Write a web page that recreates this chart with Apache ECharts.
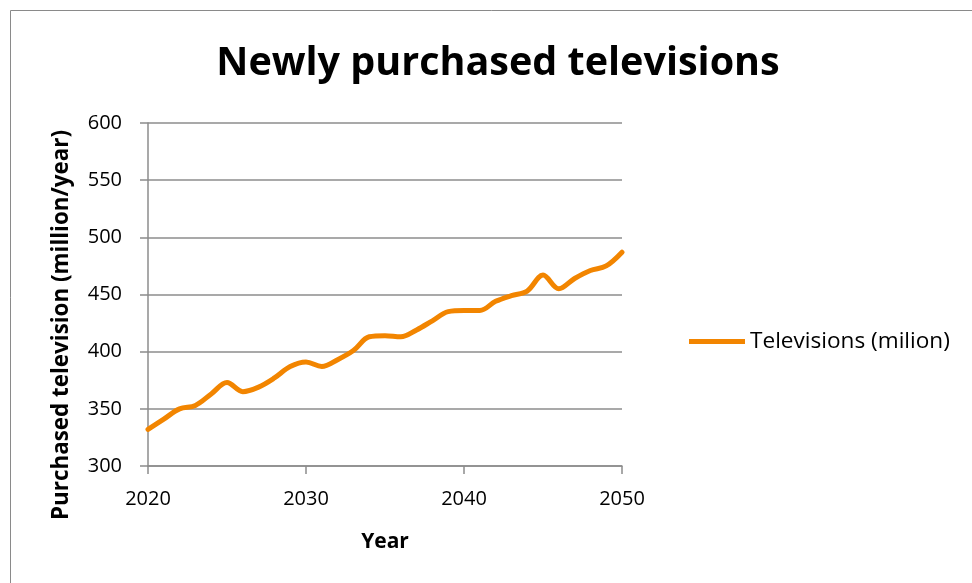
<!DOCTYPE html>
<html>
<head>
<meta charset="utf-8">
<script src="https://cdn.jsdelivr.net/npm/echarts@6/dist/echarts.min.js"></script>
<style>
  html, body { margin: 0; padding: 0; background: #fff; }
  #chart { width: 972px; height: 583px; }
</style>
</head>
<body>
<div id="chart"></div>
<script>
// Yearly purchases of new televisions, 2020-2050 (million per year)
const years = [2020, 2021, 2022, 2023, 2024, 2025, 2026, 2027, 2028, 2029, 2030,
               2031, 2032, 2033, 2034, 2035, 2036, 2037, 2038, 2039, 2040,
               2041, 2042, 2043, 2044, 2045, 2046, 2047, 2048, 2049, 2050];
const televisions = [332, 341, 350, 353, 363, 373, 365, 369, 377, 387, 391,
                     387, 393, 401, 413, 414, 413, 419, 427, 435, 436,
                     436, 444, 449, 453, 467, 455, 464, 471, 475, 487];
const xTicks = [2020, 2030, 2040, 2050];
const yTicks = [300, 350, 400, 450, 500, 550, 600];

const seriesName = 'Televisions (milion)';
const font = '"Open Sans", Lato, sans-serif';
const gridGray = '#8c8c8c';
const orange = '#F28500';

const chart = echarts.init(document.getElementById('chart'), null, { renderer: 'canvas' });

chart.setOption({
  backgroundColor: '#fff',
  animation: false,
  title: {
    text: 'Newly purchased televisions',
    left: 493, top: 39, textAlign: 'center',
    textStyle: { fontFamily: font, fontWeight: 'bold', fontSize: 39.5, color: '#000' }
  },
  legend: {
    data: [seriesName],
    left: 689, top: 330, padding: 0,
    itemWidth: 56, itemHeight: 5, itemGap: 4,
    icon: 'rect',
    textStyle: { fontFamily: font, fontSize: 22.6, color: '#000' }
  },
  grid: { left: 148, right: 350, top: 123, bottom: 117, containLabel: false },
  xAxis: {
    type: 'value',
    min: xTicks[0], max: xTicks[xTicks.length - 1], interval: 10,
    name: 'Year', nameLocation: 'middle', nameGap: 66,
    nameTextStyle: { fontFamily: font, fontWeight: 'bold', fontSize: 21, color: '#000' },
    axisLine: { lineStyle: { color: gridGray, width: 1.5 } },
    axisTick: { show: true, length: 8, lineStyle: { color: gridGray, width: 1.5 } },
    axisLabel: { fontFamily: font, fontSize: 20, color: '#000', margin: 23,
                 formatter: v => String(v) },
    splitLine: { show: false }
  },
  yAxis: {
    type: 'value',
    min: yTicks[0], max: yTicks[yTicks.length - 1], interval: 50,
    axisLine: { show: true, lineStyle: { color: gridGray, width: 1.5 } },
    axisTick: { show: true, length: 8, lineStyle: { color: gridGray, width: 1.5 } },
    axisLabel: { fontFamily: font, fontSize: 20, color: '#000', margin: 26 },
    splitLine: { show: true, lineStyle: { color: gridGray, width: 1.5 } }
  },
  graphic: [
    {
      type: 'rect', silent: true, z: -1,
      shape: { x: 10.5, y: 10.5, width: 975, height: 590 },
      style: { fill: 'none', stroke: '#8a8a8a', lineWidth: 1 }
    },
    {
      type: 'text', silent: true,
      x: 62, y: 325, rotation: Math.PI / 2,
      style: {
        text: 'Purchased television (million/year)',
        fontFamily: font, fontWeight: 'bold', fontSize: 22.4, fill: '#000',
        textAlign: 'center', textVerticalAlign: 'middle'
      }
    }
  ],
  series: [{
    name: seriesName,
    type: 'line',
    data: years.map((y, i) => [y, televisions[i]]),
    smooth: 0.35,
    showSymbol: false,
    symbol: 'none',
    lineStyle: { color: orange, width: 5, cap: 'round', join: 'round' },
    itemStyle: { color: orange }
  }]
});
</script>
</body>
</html>
